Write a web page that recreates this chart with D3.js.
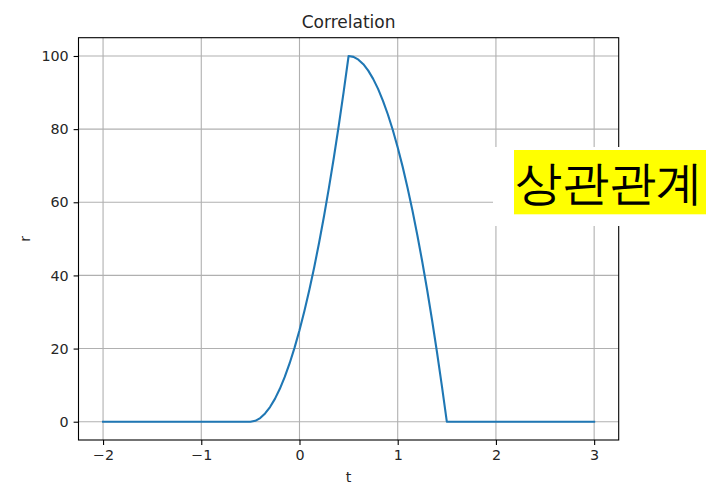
<!DOCTYPE html>
<html>
<head>
<meta charset="utf-8">
<script src="https://cdn.jsdelivr.net/npm/d3@7"></script>
<style>
  html, body { margin: 0; padding: 0; background: #fff; }
  svg { display: block; }
  text { font-family: "DejaVu Sans", sans-serif; fill: #262626; }
</style>
</head>
<body>
<svg id="chart" width="718" height="484"></svg>
<script>
// Correlation r(t), sampled values
const tValues = [
  -2.0, -0.5, -0.45, -0.4, -0.35, -0.3, -0.25, -0.2, -0.15, -0.1, -0.05,
  0.0, 0.05, 0.1, 0.15, 0.2, 0.25, 0.3, 0.35, 0.4, 0.45, 0.5,
  0.55, 0.6, 0.65, 0.7, 0.75, 0.8, 0.85, 0.9, 0.95, 1.0,
  1.05, 1.1, 1.15, 1.2, 1.25, 1.3, 1.35, 1.4, 1.45, 1.5, 3.0
];
const rValues = [
  0, 0, 0.25, 1, 2.25, 4, 6.25, 9, 12.25, 16, 20.25,
  25, 30.25, 36, 42.25, 49, 56.25, 64, 72.25, 81, 90.25, 100,
  99.75, 99, 97.75, 96, 93.75, 91, 87.75, 84, 79.75, 75,
  69.75, 64, 57.75, 51, 43.75, 36, 27.75, 19, 9.75, 0, 0
];
const xTicks = [-2, -1, 0, 1, 2, 3];
const yTicks = [0, 20, 40, 60, 80, 100];
const titleText = "Correlation";
const xLabel = "t";
const yLabel = "r";
const noteText = "상관관계";

const svg = d3.select("#chart");
const plot = { left: 78.5, right: 618.7, top: 37.7, bottom: 440 };

const x = d3.scaleLinear().domain([-2.25, 3.25]).range([plot.left, plot.right]);
const y = d3.scaleLinear().domain([-5, 105]).range([plot.bottom, plot.top]);

const fmt = v => (v < 0 ? "\u2212" + Math.abs(v) : String(v));

// grid
const grid = svg.append("g").attr("stroke", "#b0b0b0").attr("stroke-width", 1.1);
grid.selectAll(".gx").data(xTicks).join("line")
  .attr("x1", d => x(d)).attr("x2", d => x(d))
  .attr("y1", plot.top).attr("y2", plot.bottom);
grid.selectAll(".gy").data(yTicks).join("line")
  .attr("x1", plot.left).attr("x2", plot.right)
  .attr("y1", d => y(d)).attr("y2", d => y(d));

// data line
const pts = tValues.map((t, i) => [t, rValues[i]]);
svg.append("path")
  .datum(pts)
  .attr("fill", "none")
  .attr("stroke", "#1f77b4")
  .attr("stroke-width", 2.1)
  .attr("stroke-linejoin", "round")
  .attr("stroke-linecap", "square")
  .attr("d", d3.line().x(d => x(d[0])).y(d => y(d[1])));

// axes
const xAxis = svg.append("g")
  .attr("transform", `translate(0,${plot.bottom})`)
  .call(d3.axisBottom(x).tickValues(xTicks).tickFormat(fmt).tickSize(4.9).tickPadding(4.9));
const yAxis = svg.append("g")
  .attr("transform", `translate(${plot.left},0)`)
  .call(d3.axisLeft(y).tickValues(yTicks).tickFormat(fmt).tickSize(4.9).tickPadding(4.9));
[xAxis, yAxis].forEach(g => {
  g.select(".domain").remove();
  g.selectAll(".tick line").attr("stroke", "#000").attr("stroke-width", 1.1);
  g.selectAll(".tick text")
    .attr("font-family", "DejaVu Sans, sans-serif")
    .attr("font-size", 14.3)
    .attr("fill", "#262626");
});

// frame
svg.append("rect")
  .attr("x", plot.left).attr("y", plot.top)
  .attr("width", plot.right - plot.left).attr("height", plot.bottom - plot.top)
  .attr("fill", "none").attr("stroke", "#000").attr("stroke-width", 1.1);

// title and axis labels
svg.append("text")
  .attr("x", (plot.left + plot.right) / 2).attr("y", 28)
  .attr("text-anchor", "middle").attr("font-size", 17)
  .text(titleText);
svg.append("text")
  .attr("x", (plot.left + plot.right) / 2).attr("y", 481.5)
  .attr("text-anchor", "middle").attr("font-size", 14.3)
  .text(xLabel);
svg.append("text")
  .attr("transform", `translate(30,${(plot.top + plot.bottom) / 2}) rotate(-90)`)
  .attr("text-anchor", "middle").attr("font-size", 14.3)
  .text(yLabel);

// annotation box
svg.append("rect")
  .attr("x", 493).attr("y", 147).attr("width", 225).attr("height", 79)
  .attr("fill", "#fff");
svg.append("rect")
  .attr("x", 514).attr("y", 150).attr("width", 192).attr("height", 64.3)
  .attr("fill", "#ffff00");
svg.append("text")
  .attr("x", 609).attr("y", 183)
  .attr("text-anchor", "middle").attr("dominant-baseline", "central")
  .attr("font-family", "Noto Sans CJK KR, sans-serif")
  .attr("font-size", 46.5).style("fill", "#000")
  .text(noteText);
</script>
</body>
</html>
